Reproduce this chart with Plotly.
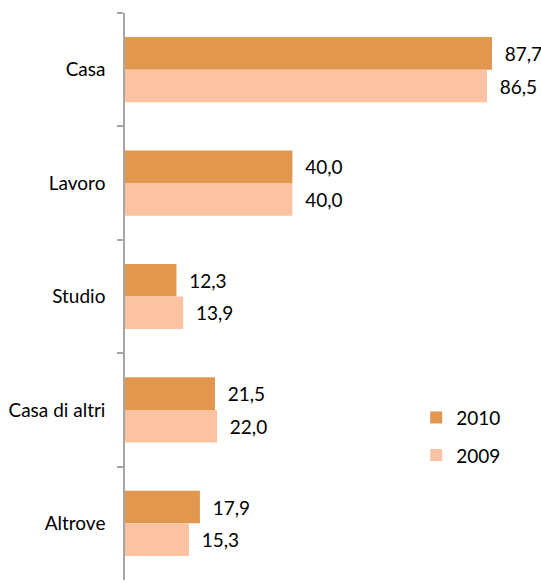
import plotly.graph_objects as go

categories = ["Casa", "Lavoro", "Studio", "Casa di altri", "Altrove"]
values_2010 = [87.7, 40.0, 12.3, 21.5, 17.9]
values_2009 = [86.5, 40.0, 13.9, 22.0, 15.3]

c2010 = "#E2974F"
c2009 = "#FBC3A1"
font_family = "Lato, 'Open Sans', sans-serif"
fs = 19

fig = go.Figure()
fig.add_trace(go.Bar(
    y=categories, x=values_2010, orientation="h", name="2010",
    marker=dict(color=c2010, line=dict(width=0)),
    texttemplate="\u00a0\u00a0%{x:.1f}", textposition="outside",
    textfont=dict(size=fs, color="#000000", family=font_family),
    cliponaxis=False, legendgroup="a",
))
fig.add_trace(go.Bar(
    y=categories, x=values_2009, orientation="h", name="2009",
    marker=dict(color=c2009, line=dict(width=0)),
    texttemplate="\u00a0\u00a0%{x:.1f}", textposition="outside",
    textfont=dict(size=fs, color="#000000", family=font_family),
    cliponaxis=False, legendgroup="b",
))

fig.update_layout(
    width=541, height=586,
    margin=dict(l=125, r=0, t=13, b=6),
    paper_bgcolor="white", plot_bgcolor="white",
    barmode="group", bargap=0.425, bargroupgap=0,
    separators=",.",
    font=dict(family=font_family, size=fs, color="#000000"),
    showlegend=True,
    legend=dict(x=0.70, y=0.32, xanchor="left", yanchor="top",
                traceorder="grouped", tracegroupgap=10,
                font=dict(size=fs, family=font_family),
                itemwidth=30, bgcolor="rgba(0,0,0,0)"),
    xaxis=dict(range=[0, 99.4], showgrid=False, zeroline=False,
               showticklabels=False, showline=False, ticks=""),
    yaxis=dict(autorange="reversed", showgrid=False, zeroline=False,
               showline=True, linecolor="#A6A6A6", linewidth=1.5,
               ticks="outside", ticklen=6, tickcolor="#A6A6A6",
               tickwidth=1.5, tickson="boundaries",
               tickfont=dict(size=fs, family=font_family), ticklabelstandoff=14),
)

fig.write_html("out.html", config={"displayModeBar": False},
               post_script="document.body.style.margin='0';")
